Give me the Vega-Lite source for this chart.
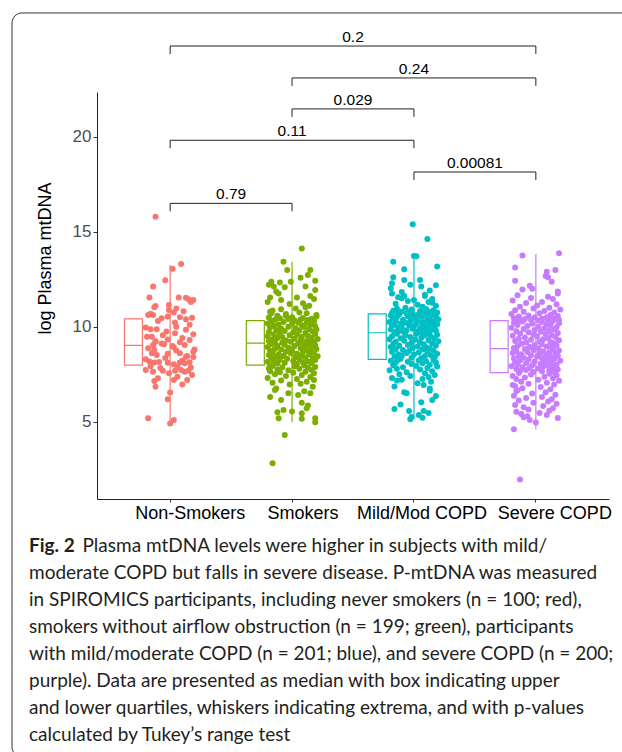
{
"$schema":"https://vega.github.io/schema/vega-lite/v6.json",
"width":512,"height":407,
"autosize":{"type":"none"},
"padding":{"left":97,"top":92,"right":13,"bottom":253},
"background":"white",
"config":{"view":{"stroke":null},"font":"Liberation Sans"},
"title":{
"text":["\u200b\u00a0\u00a0\u00a0\u00a0\u00a0\u00a0\u00a0\u00a0\u00a0\u00a0\u00a0Plasma mtDNA levels were higher in subjects with mild/",
"moderate COPD but falls in severe disease. P-mtDNA was measured",
"in SPIROMICS participants, including never smokers (n = 100; red),",
"smokers without airflow obstruction (n = 199; green), participants",
"with mild/moderate COPD (n = 201; blue), and severe COPD (n = 200;",
"purple). Data are presented as median with box indicating upper",
"and lower quartiles, whiskers indicating extrema, and with p-values",
"calculated by Tukey\u2019s range test"],
"subtitle":"Fig. 2",
"orient":"bottom","anchor":"start","frame":"group","dx":-68,"offset":-221,
"font":"Lato","fontSize":19,"fontWeight":"normal","color":"#231f20","lineHeight":27.1,
"subtitleFont":"Lato","subtitleFontSize":19,"subtitleFontWeight":"bold","subtitleColor":"#231f20","subtitlePadding":-208.7
},
"datasets":{
"boxes":[
{"g":"N","lo":4.92,"q1":7.98,"med":9.02,"q3":10.41,"hi":13.25},
{"g":"S","lo":4.97,"q1":7.98,"med":9.13,"q3":10.32,"hi":13.42},
{"g":"M","lo":5.13,"q1":8.28,"med":9.68,"q3":10.67,"hi":13.72},
{"g":"V","lo":4.60,"q1":7.58,"med":8.84,"q3":10.32,"hi":13.83}],
"sig":[
{"x1":1,"x2":4,"xm":2.5,"y":24.77,"yt":24.35,"lab":"0.2"},
{"x1":2,"x2":4,"xm":3,"y":23.09,"yt":22.67,"lab":"0.24"},
{"x1":2,"x2":3,"xm":2.5,"y":21.46,"yt":21.04,"lab":"0.029"},
{"x1":1,"x2":3,"xm":2,"y":19.81,"yt":19.39,"lab":"0.11"},
{"x1":3,"x2":4,"xm":3.5,"y":18.14,"yt":17.72,"lab":"0.00081"},
{"x1":1,"x2":2,"xm":1.5,"y":16.49,"yt":16.07,"lab":"0.79"}],
"pts":[
{"g":"N","v":15.79,"j":-0.12},{"g":"N","v":13.30,"j":0.09},{"g":"N","v":13.05,"j":0.02},{"g":"N","v":12.44,"j":-0.04},{"g":"N","v":12.12,"j":-0.14},
{"g":"N","v":11.54,"j":-0.17},{"g":"N","v":11.54,"j":0.07},{"g":"N","v":11.52,"j":0.13},{"g":"N","v":11.44,"j":0.15},{"g":"N","v":11.40,"j":0.19},
{"g":"N","v":11.30,"j":0.17},{"g":"N","v":11.09,"j":-0.12},{"g":"N","v":11.02,"j":-0.13},{"g":"N","v":11.14,"j":-0.01},{"g":"N","v":10.95,"j":0.05},
{"g":"N","v":10.88,"j":-0.01},{"g":"N","v":10.81,"j":0.11},{"g":"N","v":10.74,"j":0.03},{"g":"N","v":10.68,"j":-0.16},{"g":"N","v":10.61,"j":-0.18},
{"g":"N","v":10.61,"j":-0.14},{"g":"N","v":10.53,"j":-0.02},{"g":"N","v":10.50,"j":0.08},{"g":"N","v":10.47,"j":0.18},{"g":"N","v":10.44,"j":-0.07},
{"g":"N","v":10.39,"j":0.13},{"g":"N","v":10.30,"j":-0.10},{"g":"N","v":10.22,"j":0.04},{"g":"N","v":10.10,"j":0.16},{"g":"N","v":10.00,"j":0.05},
{"g":"N","v":9.95,"j":-0.20},{"g":"N","v":9.86,"j":-0.16},{"g":"N","v":9.86,"j":-0.11},{"g":"N","v":9.84,"j":0.13},{"g":"N","v":9.75,"j":-0.03},
{"g":"N","v":9.65,"j":0.04},{"g":"N","v":9.60,"j":0.19},{"g":"N","v":9.55,"j":-0.06},{"g":"N","v":9.47,"j":-0.19},{"g":"N","v":9.47,"j":-0.15},
{"g":"N","v":9.40,"j":0.10},{"g":"N","v":9.33,"j":-0.02},{"g":"N","v":9.30,"j":0.16},{"g":"N","v":9.25,"j":-0.12},{"g":"N","v":9.21,"j":-0.12},
{"g":"N","v":9.18,"j":0.08},{"g":"N","v":9.12,"j":-0.07},{"g":"N","v":9.07,"j":-0.05},{"g":"N","v":9.04,"j":0.12},{"g":"N","v":9.04,"j":-0.14},
{"g":"N","v":8.98,"j":0.02},{"g":"N","v":8.91,"j":0.03},{"g":"N","v":8.86,"j":-0.18},{"g":"N","v":8.80,"j":0.20},{"g":"N","v":8.77,"j":-0.13},
{"g":"N","v":8.74,"j":0.05},{"g":"N","v":8.68,"j":0.19},{"g":"N","v":8.60,"j":0.08},{"g":"N","v":8.60,"j":-0.15},{"g":"N","v":8.57,"j":-0.02},
{"g":"N","v":8.51,"j":-0.11},{"g":"N","v":8.45,"j":0.14},{"g":"N","v":8.42,"j":0.13},{"g":"N","v":8.40,"j":0.19},{"g":"N","v":8.35,"j":-0.04},
{"g":"N","v":8.28,"j":-0.20},{"g":"N","v":8.22,"j":0.10},{"g":"N","v":8.16,"j":-0.17},{"g":"N","v":8.11,"j":-0.13},{"g":"N","v":8.14,"j":-0.09},
{"g":"N","v":8.10,"j":-0.02},{"g":"N","v":8.11,"j":0.08},{"g":"N","v":8.08,"j":0.12},{"g":"N","v":8.13,"j":0.16},{"g":"N","v":8.02,"j":0.03},
{"g":"N","v":7.92,"j":-0.16},{"g":"N","v":7.88,"j":0.06},{"g":"N","v":7.85,"j":0.17},{"g":"N","v":7.82,"j":-0.08},{"g":"N","v":7.72,"j":-0.20},
{"g":"N","v":7.68,"j":-0.06},{"g":"N","v":7.68,"j":0.04},{"g":"N","v":7.72,"j":0.09},{"g":"N","v":7.63,"j":-0.14},{"g":"N","v":7.63,"j":0.12},
{"g":"N","v":7.68,"j":0.15},{"g":"N","v":7.55,"j":-0.01},{"g":"N","v":7.45,"j":0.18},{"g":"N","v":7.37,"j":0.06},{"g":"N","v":7.28,"j":-0.10},
{"g":"N","v":7.19,"j":0.03},{"g":"N","v":7.19,"j":0.14},{"g":"N","v":7.14,"j":-0.13},{"g":"N","v":6.95,"j":0.10},{"g":"N","v":6.84,"j":-0.12},
{"g":"N","v":6.54,"j":0.00},{"g":"N","v":6.18,"j":-0.02},{"g":"N","v":5.18,"j":-0.18},{"g":"N","v":5.09,"j":0.03},{"g":"N","v":4.91,"j":0.00},
{"g":"S","v":14.12,"j":0.08},{"g":"S","v":13.42,"j":-0.07},{"g":"S","v":12.98,"j":-0.04},{"g":"S","v":12.98,"j":0.15},{"g":"S","v":12.72,"j":0.13},
{"g":"S","v":12.58,"j":0.07},{"g":"S","v":12.42,"j":0.19},{"g":"S","v":12.37,"j":-0.17},{"g":"S","v":12.37,"j":-0.01},{"g":"S","v":12.32,"j":-0.10},
{"g":"S","v":12.20,"j":-0.19},{"g":"S","v":12.11,"j":-0.15},{"g":"S","v":12.11,"j":0.11},{"g":"S","v":12.07,"j":-0.06},{"g":"S","v":11.93,"j":0.19},
{"g":"S","v":11.85,"j":-0.13},{"g":"S","v":11.75,"j":-0.11},{"g":"S","v":11.61,"j":0.15},{"g":"S","v":11.54,"j":-0.18},{"g":"S","v":11.54,"j":0.04},
{"g":"S","v":11.45,"j":0.18},{"g":"S","v":11.40,"j":-0.09},{"g":"S","v":11.30,"j":-0.20},{"g":"S","v":11.23,"j":0.09},{"g":"S","v":11.19,"j":-0.02},
{"g":"S","v":11.10,"j":0.14},{"g":"S","v":11.02,"j":0.11},{"g":"S","v":10.96,"j":0.03},{"g":"S","v":10.91,"j":-0.09},{"g":"S","v":10.85,"j":-0.16},
{"g":"S","v":10.79,"j":-0.18},{"g":"S","v":10.75,"j":0.06},{"g":"S","v":10.70,"j":-0.17},{"g":"S","v":10.70,"j":0.12},{"g":"S","v":10.66,"j":-0.05},
{"g":"S","v":10.62,"j":0.20},{"g":"S","v":10.58,"j":-0.12},{"g":"S","v":10.56,"j":-0.05},{"g":"S","v":10.53,"j":0.20},{"g":"S","v":10.50,"j":0.00},
{"g":"S","v":10.48,"j":-0.19},{"g":"S","v":10.46,"j":0.09},{"g":"S","v":10.44,"j":-0.10},{"g":"S","v":10.42,"j":0.16},{"g":"S","v":10.40,"j":-0.03},
{"g":"S","v":10.38,"j":0.07},{"g":"S","v":10.36,"j":-0.14},{"g":"S","v":10.35,"j":0.13},{"g":"S","v":10.34,"j":0.02},
{"g":"S","v":10.30,"j":-0.17},{"g":"S","v":10.28,"j":0.18},{"g":"S","v":10.25,"j":-0.07},{"g":"S","v":10.22,"j":0.05},{"g":"S","v":10.20,"j":0.12},
{"g":"S","v":10.17,"j":-0.20},{"g":"S","v":10.15,"j":0.00},{"g":"S","v":10.12,"j":-0.11},{"g":"S","v":10.10,"j":0.15},{"g":"S","v":10.08,"j":0.08},
{"g":"S","v":10.05,"j":-0.15},{"g":"S","v":10.02,"j":0.19},{"g":"S","v":10.00,"j":-0.03},{"g":"S","v":9.98,"j":0.10},{"g":"S","v":9.95,"j":-0.18},
{"g":"S","v":9.92,"j":0.03},{"g":"S","v":9.90,"j":-0.09},{"g":"S","v":9.87,"j":0.14},{"g":"S","v":9.85,"j":0.20},{"g":"S","v":9.82,"j":-0.13},
{"g":"S","v":9.80,"j":0.06},{"g":"S","v":9.77,"j":-0.06},{"g":"S","v":9.75,"j":0.17},{"g":"S","v":9.72,"j":-0.19},{"g":"S","v":9.70,"j":0.01},
{"g":"S","v":9.67,"j":0.11},{"g":"S","v":9.65,"j":-0.10},{"g":"S","v":9.62,"j":0.19},{"g":"S","v":9.60,"j":-0.15},{"g":"S","v":9.57,"j":0.04},
{"g":"S","v":9.55,"j":-0.02},{"g":"S","v":9.52,"j":0.13},{"g":"S","v":9.50,"j":-0.20},{"g":"S","v":9.47,"j":0.08},{"g":"S","v":9.45,"j":-0.08},
{"g":"S","v":9.42,"j":0.16},{"g":"S","v":9.40,"j":-0.12},{"g":"S","v":9.37,"j":0.02},{"g":"S","v":9.35,"j":0.21},{"g":"S","v":9.32,"j":-0.16},
{"g":"S","v":9.30,"j":0.07},{"g":"S","v":9.28,"j":-0.05},{"g":"S","v":9.25,"j":0.12},{"g":"S","v":9.23,"j":-0.19},{"g":"S","v":9.21,"j":0.18},
{"g":"S","v":9.20,"j":-0.01},{"g":"S","v":9.18,"j":0.09},{"g":"S","v":9.17,"j":-0.14},{"g":"S","v":9.16,"j":0.15},{"g":"S","v":9.15,"j":-0.08},
{"g":"S","v":9.11,"j":0.05},{"g":"S","v":9.09,"j":-0.17},{"g":"S","v":9.07,"j":0.13},{"g":"S","v":9.05,"j":-0.06},{"g":"S","v":9.02,"j":0.19},
{"g":"S","v":9.00,"j":-0.12},{"g":"S","v":8.98,"j":0.02},{"g":"S","v":8.96,"j":0.10},{"g":"S","v":8.93,"j":-0.20},{"g":"S","v":8.91,"j":0.16},
{"g":"S","v":8.89,"j":-0.03},{"g":"S","v":8.86,"j":0.07},{"g":"S","v":8.84,"j":-0.14},{"g":"S","v":8.82,"j":0.20},{"g":"S","v":8.80,"j":-0.09},
{"g":"S","v":8.77,"j":0.12},{"g":"S","v":8.75,"j":0.00},{"g":"S","v":8.73,"j":-0.18},{"g":"S","v":8.71,"j":0.15},{"g":"S","v":8.68,"j":-0.05},
{"g":"S","v":8.66,"j":0.09},{"g":"S","v":8.64,"j":-0.16},{"g":"S","v":8.62,"j":0.18},{"g":"S","v":8.60,"j":-0.01},{"g":"S","v":8.57,"j":0.04},
{"g":"S","v":8.55,"j":-0.11},{"g":"S","v":8.53,"j":0.14},{"g":"S","v":8.51,"j":-0.19},{"g":"S","v":8.49,"j":0.08},{"g":"S","v":8.46,"j":-0.07},
{"g":"S","v":8.44,"j":0.21},{"g":"S","v":8.42,"j":-0.13},{"g":"S","v":8.40,"j":0.03},{"g":"S","v":8.37,"j":0.11},{"g":"S","v":8.35,"j":-0.17},
{"g":"S","v":8.33,"j":0.17},{"g":"S","v":8.31,"j":-0.04},{"g":"S","v":8.28,"j":0.06},{"g":"S","v":8.26,"j":-0.10},{"g":"S","v":8.24,"j":0.19},
{"g":"S","v":8.22,"j":-0.15},{"g":"S","v":8.19,"j":0.01},{"g":"S","v":8.17,"j":0.13},{"g":"S","v":8.15,"j":-0.20},{"g":"S","v":8.13,"j":0.09},
{"g":"S","v":8.10,"j":-0.06},{"g":"S","v":8.08,"j":0.16},{"g":"S","v":8.06,"j":-0.12},{"g":"S","v":8.03,"j":0.04},{"g":"S","v":8.00,"j":-0.18},
{"g":"S","v":7.95,"j":0.10},{"g":"S","v":7.93,"j":-0.16},{"g":"S","v":7.90,"j":0.02},{"g":"S","v":7.88,"j":0.19},{"g":"S","v":7.86,"j":-0.08},
{"g":"S","v":7.84,"j":0.13},{"g":"S","v":7.80,"j":-0.19},{"g":"S","v":7.78,"j":0.06},{"g":"S","v":7.75,"j":-0.12},{"g":"S","v":7.72,"j":0.16},
{"g":"S","v":7.70,"j":-0.03},{"g":"S","v":7.65,"j":-0.18},{"g":"S","v":7.63,"j":0.11},{"g":"S","v":7.60,"j":-0.10},{"g":"S","v":7.58,"j":0.01},
{"g":"S","v":7.55,"j":0.18},{"g":"S","v":7.50,"j":-0.14},{"g":"S","v":7.45,"j":0.08},{"g":"S","v":7.40,"j":-0.05},{"g":"S","v":7.35,"j":0.15},
{"g":"S","v":7.30,"j":-0.20},{"g":"S","v":7.25,"j":0.04},{"g":"S","v":7.19,"j":0.18},{"g":"S","v":7.16,"j":-0.09},{"g":"S","v":7.10,"j":0.12},
{"g":"S","v":7.05,"j":-0.16},{"g":"S","v":7.00,"j":0.07},{"g":"S","v":6.95,"j":-0.02},{"g":"S","v":6.84,"j":0.17},{"g":"S","v":6.75,"j":-0.13},
{"g":"S","v":6.67,"j":-0.14},{"g":"S","v":6.60,"j":0.10},{"g":"S","v":6.49,"j":-0.03},{"g":"S","v":6.49,"j":0.15},{"g":"S","v":6.40,"j":0.05},
{"g":"S","v":6.30,"j":-0.18},{"g":"S","v":6.14,"j":-0.09},{"g":"S","v":6.00,"j":0.08},{"g":"S","v":5.85,"j":0.13},{"g":"S","v":5.70,"j":0.12},
{"g":"S","v":5.61,"j":-0.07},{"g":"S","v":5.53,"j":0.00},{"g":"S","v":5.50,"j":-0.12},{"g":"S","v":5.44,"j":0.08},{"g":"S","v":5.18,"j":-0.11},
{"g":"S","v":5.16,"j":0.08},{"g":"S","v":5.18,"j":0.19},{"g":"S","v":4.97,"j":0.19},{"g":"S","v":4.30,"j":-0.06},{"g":"S","v":2.81,"j":-0.16},
{"g":"M","v":15.39,"j":-0.01},{"g":"M","v":14.61,"j":0.11},{"g":"M","v":13.72,"j":0.00},{"g":"M","v":13.70,"j":0.02},{"g":"M","v":13.42,"j":-0.17},
{"g":"M","v":13.16,"j":0.19},{"g":"M","v":13.02,"j":-0.08},{"g":"M","v":12.60,"j":-0.17},{"g":"M","v":12.46,"j":-0.08},{"g":"M","v":12.46,"j":0.05},
{"g":"M","v":12.28,"j":-0.18},{"g":"M","v":12.21,"j":-0.03},{"g":"M","v":12.18,"j":0.18},{"g":"M","v":12.11,"j":0.06},{"g":"M","v":12.02,"j":-0.19},
{"g":"M","v":11.90,"j":0.13},{"g":"M","v":11.82,"j":-0.10},{"g":"M","v":11.75,"j":-0.18},{"g":"M","v":11.68,"j":0.09},{"g":"M","v":11.61,"j":-0.08},
{"g":"M","v":11.61,"j":0.09},{"g":"M","v":11.55,"j":-0.13},{"g":"M","v":11.49,"j":-0.10},{"g":"M","v":11.45,"j":0.15},{"g":"M","v":11.40,"j":0.00},
{"g":"M","v":11.35,"j":-0.05},{"g":"M","v":11.30,"j":0.12},{"g":"M","v":11.26,"j":0.15},{"g":"M","v":11.20,"j":-0.15},{"g":"M","v":11.15,"j":0.03},
{"g":"M","v":11.10,"j":0.18},{"g":"M","v":11.05,"j":0.07},{"g":"M","v":11.00,"j":-0.07},{"g":"M","v":10.96,"j":-0.14},{"g":"M","v":10.93,"j":0.10},
{"g":"M","v":10.90,"j":-0.02},{"g":"M","v":10.87,"j":0.16},{"g":"M","v":10.84,"j":-0.17},{"g":"M","v":10.82,"j":0.05},{"g":"M","v":10.80,"j":-0.10},
{"g":"M","v":10.78,"j":0.13},{"g":"M","v":10.76,"j":-0.04},{"g":"M","v":10.74,"j":0.19},{"g":"M","v":10.72,"j":-0.13},{"g":"M","v":10.71,"j":-0.18},
{"g":"M","v":10.70,"j":0.08},{"g":"M","v":10.69,"j":-0.06},{"g":"M","v":10.68,"j":0.14},{"g":"M","v":10.68,"j":-0.01},{"g":"M","v":10.67,"j":0.11},
{"g":"M","v":10.65,"j":-0.12},{"g":"M","v":10.63,"j":0.15},{"g":"M","v":10.61,"j":0.03},{"g":"M","v":10.59,"j":-0.19},{"g":"M","v":10.57,"j":0.09},
{"g":"M","v":10.55,"j":-0.05},{"g":"M","v":10.53,"j":0.18},{"g":"M","v":10.51,"j":-0.14},{"g":"M","v":10.49,"j":0.06},{"g":"M","v":10.47,"j":-0.02},
{"g":"M","v":10.45,"j":0.13},{"g":"M","v":10.43,"j":-0.17},{"g":"M","v":10.41,"j":0.01},{"g":"M","v":10.39,"j":0.20},{"g":"M","v":10.37,"j":-0.09},
{"g":"M","v":10.35,"j":0.11},{"g":"M","v":10.33,"j":-0.15},{"g":"M","v":10.31,"j":0.04},{"g":"M","v":10.29,"j":-0.03},{"g":"M","v":10.27,"j":0.16},
{"g":"M","v":10.25,"j":-0.20},{"g":"M","v":10.23,"j":0.08},{"g":"M","v":10.21,"j":-0.07},{"g":"M","v":10.19,"j":0.14},{"g":"M","v":10.17,"j":-0.11},
{"g":"M","v":10.15,"j":0.02},{"g":"M","v":10.13,"j":0.19},{"g":"M","v":10.11,"j":-0.16},{"g":"M","v":10.09,"j":0.07},{"g":"M","v":10.07,"j":-0.04},
{"g":"M","v":10.05,"j":0.12},{"g":"M","v":10.03,"j":-0.18},{"g":"M","v":10.01,"j":0.00},{"g":"M","v":9.99,"j":0.17},{"g":"M","v":9.97,"j":-0.10},
{"g":"M","v":9.95,"j":0.10},{"g":"M","v":9.93,"j":-0.13},{"g":"M","v":9.91,"j":0.05},{"g":"M","v":9.89,"j":-0.01},{"g":"M","v":9.87,"j":0.15},
{"g":"M","v":9.85,"j":-0.19},{"g":"M","v":9.83,"j":0.08},{"g":"M","v":9.81,"j":-0.06},{"g":"M","v":9.79,"j":0.18},{"g":"M","v":9.77,"j":-0.12},
{"g":"M","v":9.75,"j":0.03},{"g":"M","v":9.74,"j":0.13},{"g":"M","v":9.72,"j":-0.16},{"g":"M","v":9.71,"j":0.06},{"g":"M","v":9.70,"j":-0.08},
{"g":"M","v":9.66,"j":0.11},{"g":"M","v":9.63,"j":-0.14},{"g":"M","v":9.61,"j":0.02},{"g":"M","v":9.58,"j":0.19},{"g":"M","v":9.55,"j":-0.07},
{"g":"M","v":9.53,"j":0.09},{"g":"M","v":9.50,"j":-0.18},{"g":"M","v":9.47,"j":0.14},{"g":"M","v":9.45,"j":-0.03},{"g":"M","v":9.42,"j":0.06},
{"g":"M","v":9.39,"j":-0.11},{"g":"M","v":9.37,"j":0.17},{"g":"M","v":9.34,"j":-0.20},{"g":"M","v":9.31,"j":0.01},{"g":"M","v":9.28,"j":0.12},
{"g":"M","v":9.26,"j":-0.08},{"g":"M","v":9.23,"j":0.20},{"g":"M","v":9.20,"j":-0.15},{"g":"M","v":9.18,"j":0.05},{"g":"M","v":9.15,"j":-0.02},
{"g":"M","v":9.12,"j":0.15},{"g":"M","v":9.09,"j":-0.17},{"g":"M","v":9.07,"j":0.08},{"g":"M","v":9.04,"j":-0.05},{"g":"M","v":9.01,"j":0.18},
{"g":"M","v":8.99,"j":-0.12},{"g":"M","v":8.96,"j":0.03},{"g":"M","v":8.93,"j":-0.19},{"g":"M","v":8.91,"j":0.10},{"g":"M","v":8.88,"j":-0.01},
{"g":"M","v":8.85,"j":0.13},{"g":"M","v":8.82,"j":-0.15},{"g":"M","v":8.80,"j":0.07},{"g":"M","v":8.77,"j":-0.09},{"g":"M","v":8.74,"j":0.16},
{"g":"M","v":8.72,"j":-0.04},{"g":"M","v":8.69,"j":0.11},{"g":"M","v":8.66,"j":-0.18},{"g":"M","v":8.64,"j":0.04},{"g":"M","v":8.61,"j":-0.06},
{"g":"M","v":8.58,"j":0.19},{"g":"M","v":8.55,"j":-0.13},{"g":"M","v":8.53,"j":0.00},{"g":"M","v":8.50,"j":0.14},{"g":"M","v":8.47,"j":-0.10},
{"g":"M","v":8.45,"j":0.09},{"g":"M","v":8.42,"j":-0.16},{"g":"M","v":8.39,"j":0.17},{"g":"M","v":8.37,"j":-0.02},{"g":"M","v":8.34,"j":0.06},
{"g":"M","v":8.31,"j":-0.11},
{"g":"M","v":8.26,"j":0.16},{"g":"M","v":8.24,"j":-0.13},{"g":"M","v":8.22,"j":0.04},{"g":"M","v":8.20,"j":-0.19},{"g":"M","v":8.18,"j":0.10},
{"g":"M","v":8.15,"j":-0.05},{"g":"M","v":8.12,"j":0.18},{"g":"M","v":8.10,"j":-0.15},{"g":"M","v":8.07,"j":0.07},{"g":"M","v":8.04,"j":-0.02},
{"g":"M","v":8.00,"j":0.13},{"g":"M","v":7.97,"j":-0.17},{"g":"M","v":7.93,"j":0.02},{"g":"M","v":7.90,"j":0.19},{"g":"M","v":7.86,"j":-0.09},
{"g":"M","v":7.82,"j":0.11},{"g":"M","v":7.78,"j":-0.14},{"g":"M","v":7.74,"j":0.05},{"g":"M","v":7.70,"j":-0.20},{"g":"M","v":7.65,"j":0.15},
{"g":"M","v":7.60,"j":-0.06},{"g":"M","v":7.55,"j":0.09},{"g":"M","v":7.50,"j":-0.12},{"g":"M","v":7.45,"j":0.17},{"g":"M","v":7.40,"j":-0.03},
{"g":"M","v":7.35,"j":0.12},{"g":"M","v":7.30,"j":-0.18},{"g":"M","v":7.25,"j":0.07},{"g":"M","v":7.20,"j":-0.10},{"g":"M","v":7.16,"j":-0.14},
{"g":"M","v":7.10,"j":0.14},{"g":"M","v":7.02,"j":0.03},{"g":"M","v":6.93,"j":0.08},{"g":"M","v":6.85,"j":-0.16},{"g":"M","v":6.75,"j":0.13},
{"g":"M","v":6.63,"j":0.13},{"g":"M","v":6.55,"j":-0.08},{"g":"M","v":6.49,"j":-0.06},{"g":"M","v":6.35,"j":0.18},{"g":"M","v":6.14,"j":0.15},
{"g":"M","v":6.02,"j":0.06},{"g":"M","v":5.90,"j":-0.11},{"g":"M","v":5.67,"j":-0.16},{"g":"M","v":5.56,"j":-0.04},{"g":"M","v":5.56,"j":0.08},
{"g":"M","v":5.45,"j":0.12},{"g":"M","v":5.35,"j":0.04},{"g":"M","v":5.25,"j":-0.02},{"g":"M","v":5.20,"j":0.07},{"g":"M","v":5.13,"j":-0.03},
{"g":"V","v":13.86,"j":0.19},{"g":"V","v":13.74,"j":-0.11},{"g":"V","v":13.11,"j":-0.17},{"g":"V","v":12.98,"j":0.16},{"g":"V","v":12.89,"j":0.09},
{"g":"V","v":12.67,"j":0.08},{"g":"V","v":12.60,"j":0.10},{"g":"V","v":12.42,"j":-0.17},{"g":"V","v":12.37,"j":0.13},{"g":"V","v":12.15,"j":-0.05},
{"g":"V","v":12.00,"j":-0.03},{"g":"V","v":11.96,"j":-0.11},{"g":"V","v":11.85,"j":0.18},{"g":"V","v":11.75,"j":0.18},{"g":"V","v":11.65,"j":-0.15},
{"g":"V","v":11.58,"j":0.10},{"g":"V","v":11.51,"j":-0.04},{"g":"V","v":11.45,"j":0.14},{"g":"V","v":11.38,"j":-0.19},{"g":"V","v":11.30,"j":0.05},
{"g":"V","v":11.25,"j":-0.08},{"g":"V","v":11.18,"j":0.17},{"g":"V","v":11.12,"j":0.01},{"g":"V","v":11.05,"j":-0.13},{"g":"V","v":11.00,"j":0.11},
{"g":"V","v":10.95,"j":-0.02},{"g":"V","v":10.90,"j":0.20},{"g":"V","v":10.86,"j":-0.17},{"g":"V","v":10.82,"j":0.07},{"g":"V","v":10.78,"j":-0.10},
{"g":"V","v":10.74,"j":0.15},{"g":"V","v":10.70,"j":0.03},{"g":"V","v":10.66,"j":-0.20},{"g":"V","v":10.62,"j":0.12},{"g":"V","v":10.59,"j":-0.06},
{"g":"V","v":10.56,"j":0.18},{"g":"V","v":10.53,"j":-0.14},{"g":"V","v":10.50,"j":0.09},{"g":"V","v":10.48,"j":-0.01},{"g":"V","v":10.46,"j":0.16},
{"g":"V","v":10.44,"j":-0.18},{"g":"V","v":10.42,"j":0.05},{"g":"V","v":10.40,"j":-0.09},{"g":"V","v":10.38,"j":0.13},{"g":"V","v":10.36,"j":-0.04},
{"g":"V","v":10.35,"j":0.19},{"g":"V","v":10.34,"j":-0.12},{"g":"V","v":10.33,"j":0.02},{"g":"V","v":10.33,"j":0.10},{"g":"V","v":10.32,"j":-0.16},
{"g":"V","v":10.30,"j":0.14},{"g":"V","v":10.27,"j":-0.11},{"g":"V","v":10.24,"j":0.05},{"g":"V","v":10.21,"j":-0.18},{"g":"V","v":10.18,"j":0.19},
{"g":"V","v":10.15,"j":-0.03},{"g":"V","v":10.12,"j":0.09},{"g":"V","v":10.09,"j":-0.15},{"g":"V","v":10.06,"j":0.12},{"g":"V","v":10.03,"j":-0.07},
{"g":"V","v":10.00,"j":0.02},{"g":"V","v":9.97,"j":0.17},{"g":"V","v":9.94,"j":-0.20},{"g":"V","v":9.91,"j":0.07},{"g":"V","v":9.88,"j":-0.10},
{"g":"V","v":9.85,"j":0.15},{"g":"V","v":9.82,"j":-0.01},{"g":"V","v":9.79,"j":0.11},{"g":"V","v":9.76,"j":-0.16},{"g":"V","v":9.73,"j":0.04},
{"g":"V","v":9.70,"j":-0.06},{"g":"V","v":9.67,"j":0.18},{"g":"V","v":9.64,"j":-0.13},{"g":"V","v":9.61,"j":0.08},{"g":"V","v":9.58,"j":-0.02},
{"g":"V","v":9.55,"j":0.13},{"g":"V","v":9.52,"j":-0.19},{"g":"V","v":9.49,"j":0.01},{"g":"V","v":9.46,"j":0.16},{"g":"V","v":9.43,"j":-0.09},
{"g":"V","v":9.40,"j":0.10},{"g":"V","v":9.37,"j":-0.14},{"g":"V","v":9.34,"j":0.06},{"g":"V","v":9.31,"j":-0.04},{"g":"V","v":9.28,"j":0.19},
{"g":"V","v":9.25,"j":-0.17},{"g":"V","v":9.22,"j":0.03},{"g":"V","v":9.19,"j":0.12},{"g":"V","v":9.16,"j":-0.08},{"g":"V","v":9.13,"j":0.15},
{"g":"V","v":9.10,"j":-0.12},{"g":"V","v":9.07,"j":0.05},{"g":"V","v":9.04,"j":-0.01},{"g":"V","v":9.01,"j":0.17},{"g":"V","v":8.98,"j":-0.15},
{"g":"V","v":8.95,"j":0.09},{"g":"V","v":8.93,"j":-0.05},{"g":"V","v":8.91,"j":0.13},{"g":"V","v":8.88,"j":-0.18},{"g":"V","v":8.86,"j":0.02},
{"g":"V","v":8.82,"j":-0.09},{"g":"V","v":8.80,"j":0.14},{"g":"V","v":8.77,"j":-0.02},{"g":"V","v":8.75,"j":0.19},{"g":"V","v":8.72,"j":-0.16},
{"g":"V","v":8.70,"j":0.06},{"g":"V","v":8.67,"j":-0.07},{"g":"V","v":8.65,"j":0.11},{"g":"V","v":8.62,"j":-0.19},{"g":"V","v":8.60,"j":0.03},
{"g":"V","v":8.57,"j":0.16},{"g":"V","v":8.55,"j":-0.12},{"g":"V","v":8.52,"j":0.08},{"g":"V","v":8.50,"j":-0.04},{"g":"V","v":8.47,"j":0.18},
{"g":"V","v":8.45,"j":-0.14},{"g":"V","v":8.42,"j":0.01},{"g":"V","v":8.40,"j":0.12},{"g":"V","v":8.37,"j":-0.10},{"g":"V","v":8.35,"j":0.05},
{"g":"V","v":8.32,"j":-0.18},{"g":"V","v":8.30,"j":0.15},{"g":"V","v":8.27,"j":-0.06},{"g":"V","v":8.25,"j":0.09},{"g":"V","v":8.22,"j":-0.13},
{"g":"V","v":8.20,"j":0.20},{"g":"V","v":8.17,"j":-0.01},{"g":"V","v":8.15,"j":0.07},{"g":"V","v":8.12,"j":-0.17},{"g":"V","v":8.10,"j":0.13},
{"g":"V","v":8.07,"j":-0.08},{"g":"V","v":8.05,"j":0.04},{"g":"V","v":8.02,"j":-0.15},{"g":"V","v":8.00,"j":0.17},{"g":"V","v":7.97,"j":-0.03},
{"g":"V","v":7.95,"j":0.10},{"g":"V","v":7.92,"j":-0.20},{"g":"V","v":7.90,"j":0.06},{"g":"V","v":7.87,"j":-0.11},{"g":"V","v":7.85,"j":0.14},
{"g":"V","v":7.82,"j":-0.05},{"g":"V","v":7.80,"j":0.02},{"g":"V","v":7.77,"j":-0.16},{"g":"V","v":7.75,"j":0.18},{"g":"V","v":7.72,"j":-0.08},
{"g":"V","v":7.70,"j":0.11},{"g":"V","v":7.67,"j":-0.13},{"g":"V","v":7.65,"j":0.05},{"g":"V","v":7.62,"j":-0.02},{"g":"V","v":7.60,"j":0.15},
{"g":"V","v":7.56,"j":-0.14},{"g":"V","v":7.52,"j":0.11},{"g":"V","v":7.48,"j":-0.04},{"g":"V","v":7.44,"j":0.17},{"g":"V","v":7.40,"j":-0.19},
{"g":"V","v":7.36,"j":0.07},{"g":"V","v":7.32,"j":-0.09},{"g":"V","v":7.28,"j":0.14},{"g":"V","v":7.24,"j":-0.16},{"g":"V","v":7.20,"j":0.02},
{"g":"V","v":7.15,"j":0.19},{"g":"V","v":7.10,"j":-0.12},{"g":"V","v":7.05,"j":0.09},{"g":"V","v":7.00,"j":-0.06},{"g":"V","v":6.95,"j":0.15},
{"g":"V","v":6.93,"j":-0.19},{"g":"V","v":6.88,"j":-0.17},{"g":"V","v":6.82,"j":0.04},{"g":"V","v":6.76,"j":-0.11},{"g":"V","v":6.70,"j":0.12},
{"g":"V","v":6.65,"j":-0.15},{"g":"V","v":6.61,"j":-0.16},{"g":"V","v":6.55,"j":0.08},{"g":"V","v":6.48,"j":-0.03},{"g":"V","v":6.42,"j":0.16},
{"g":"V","v":6.36,"j":-0.18},{"g":"V","v":6.30,"j":0.05},{"g":"V","v":6.24,"j":-0.08},{"g":"V","v":6.18,"j":0.13},{"g":"V","v":6.12,"j":-0.14},
{"g":"V","v":6.06,"j":0.10},{"g":"V","v":6.00,"j":-0.02},{"g":"V","v":5.94,"j":0.17},{"g":"V","v":5.88,"j":-0.17},{"g":"V","v":5.82,"j":0.06},
{"g":"V","v":5.76,"j":-0.10},{"g":"V","v":5.70,"j":0.14},{"g":"V","v":5.64,"j":-0.06},{"g":"V","v":5.58,"j":0.11},{"g":"V","v":5.52,"j":-0.16},
{"g":"V","v":5.46,"j":0.03},{"g":"V","v":5.40,"j":-0.12},{"g":"V","v":5.35,"j":0.09},{"g":"V","v":5.28,"j":-0.07},{"g":"V","v":5.23,"j":-0.10},
{"g":"V","v":5.19,"j":0.18},{"g":"V","v":5.09,"j":-0.05},{"g":"V","v":4.95,"j":0.00},{"g":"V","v":4.60,"j":-0.18},{"g":"V","v":1.96,"j":-0.13}
]},
"layer":[
{"layer":[
{"data":{"name":"boxes"},"mark":{"type":"rule","strokeWidth":1.2},
"encoding":{
"x":{"field":"g","type":"nominal","title":null,"scale":{"domain":["N","S","M","V"],"paddingInner":0.25,"paddingOuter":0.225},
"axis":{"labelExpr":"{'N':'Non-Smokers','S':'Smokers','M':'Mild/Mod COPD','V':'Severe COPD'}[datum.value]","labelAngle":0,"labelFontSize":18,"labelColor":"black","labelFont":"Liberation Sans","labelPadding":2,"tickSize":3,"tickColor":"#333","domainColor":"#222","domainWidth":1,"labelOffset":{"condition":[{"test":"datum.value==='N'","value":20},{"test":"datum.value==='S'","value":11},{"test":"datum.value==='M'","value":8}],"value":19}}},
"y":{"field":"lo","type":"quantitative","scale":{"domain":[0.93,22.35],"nice":false,"zero":false},
"axis":{"values":[5,10,15,20],"grid":false,"title":"log Plasma mtDNA","titleFontSize":18,"titleFontWeight":"normal","titleColor":"black","titleFont":"Liberation Sans","titlePadding":18,"titleY":166,"labelFontSize":17,"labelColor":"#4d4d4d","labelFont":"Liberation Sans","labelPadding":2,"tickSize":4,"tickColor":"#333","domainColor":"#222","domainWidth":1}},
"y2":{"field":"hi"},
"color":{"field":"g","type":"nominal","scale":{"domain":["N","S","M","V"],"range":["#F8766D","#7CAE00","#00BFC4","#C77CFF"]},"legend":null}}},
{"data":{"name":"boxes"},"mark":{"type":"bar","fill":"white","strokeWidth":1.2,"width":{"band":1}},
"encoding":{
"x":{"field":"g","type":"nominal","scale":{"domain":["N","S","M","V"],"paddingInner":0.25,"paddingOuter":0.225}},
"y":{"field":"q1","type":"quantitative","scale":{"domain":[0.93,22.35],"nice":false,"zero":false}},
"y2":{"field":"q3"},
"stroke":{"field":"g","type":"nominal","scale":{"domain":["N","S","M","V"],"range":["#F8766D","#7CAE00","#00BFC4","#C77CFF"]},"legend":null}}},
{"data":{"name":"boxes"},"mark":{"type":"bar","fill":null,"fillOpacity":0,"strokeWidth":1.2,"width":{"band":1}},
"encoding":{
"x":{"field":"g","type":"nominal","scale":{"domain":["N","S","M","V"],"paddingInner":0.25,"paddingOuter":0.225}},
"y":{"field":"med","type":"quantitative","scale":{"domain":[0.93,22.35],"nice":false,"zero":false}},
"y2":{"field":"med"},
"stroke":{"field":"g","type":"nominal","scale":{"domain":["N","S","M","V"],"range":["#F8766D","#7CAE00","#00BFC4","#C77CFF"]},"legend":null}}},
{"data":{"name":"pts"},"mark":{"type":"circle","size":36,"opacity":1},
"encoding":{
"x":{"field":"g","type":"nominal","scale":{"domain":["N","S","M","V"],"paddingInner":0.25,"paddingOuter":0.225}},
"xOffset":{"field":"j","type":"quantitative","scale":{"domain":[-0.375,0.375]}},
"y":{"field":"v","type":"quantitative","scale":{"domain":[0.93,22.35],"nice":false,"zero":false}},
"color":{"field":"g","type":"nominal","scale":{"domain":["N","S","M","V"],"range":["#F8766D","#7CAE00","#00BFC4","#C77CFF"]},"legend":null}}}
]},
{"layer":[
{"data":{"name":"sig"},"mark":{"type":"rule","color":"#222","strokeWidth":1},
"encoding":{
"x":{"field":"x1","type":"quantitative","scale":{"domain":[0.4,4.6],"nice":false,"zero":false},"axis":null},
"x2":{"field":"x2"},
"y":{"field":"y","type":"quantitative","scale":{"domain":[0.93,22.35],"nice":false,"zero":false}}}},
{"data":{"name":"sig"},"transform":[{"fold":["x1","x2"],"as":["end","xe"]}],"mark":{"type":"rule","color":"#222","strokeWidth":1},
"encoding":{
"x":{"field":"xe","type":"quantitative","scale":{"domain":[0.4,4.6],"nice":false,"zero":false},"axis":null},
"y":{"field":"y","type":"quantitative","scale":{"domain":[0.93,22.35],"nice":false,"zero":false}},
"y2":{"field":"yt"}}},
{"data":{"name":"sig"},"mark":{"type":"text","fontSize":15.5,"font":"Liberation Sans","baseline":"alphabetic","dy":-4,"color":"black"},
"encoding":{
"x":{"field":"xm","type":"quantitative","scale":{"domain":[0.4,4.6],"nice":false,"zero":false},"axis":null},
"y":{"field":"y","type":"quantitative","scale":{"domain":[0.93,22.35],"nice":false,"zero":false}},
"text":{"field":"lab"}}},
{"data":{"values":[{}]},"mark":{"type":"rect","filled":false,"stroke":"#333","strokeWidth":1,"cornerRadius":10},
"encoding":{
"x":{"datum":-0.297,"type":"quantitative","scale":{"domain":[0.4,4.6],"nice":false,"zero":false},"axis":null},
"x2":{"datum":5.0},
"y":{"datum":26.51,"type":"quantitative","scale":{"domain":[0.93,22.35],"nice":false,"zero":false}},
"y2":{"datum":-12.65}}}
]}
],
"resolve":{"scale":{"x":"independent"},"axis":{"x":"independent"}}
}
